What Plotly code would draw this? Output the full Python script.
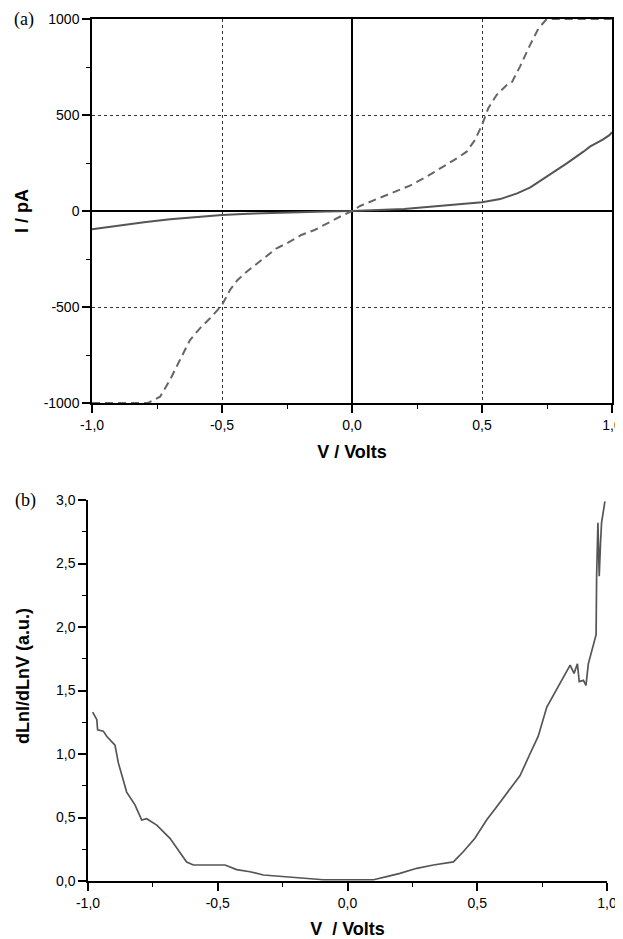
import plotly.graph_objects as go

# ---------- data ----------
a_solid_v = [-1.0, -0.9, -0.8, -0.7, -0.6, -0.5, -0.4, -0.3, -0.2, -0.1, 0.0, 0.1, 0.2, 0.3, 0.4,
             0.5, 0.57, 0.635, 0.686, 0.71, 0.762, 0.826, 0.89, 0.915, 0.966, 0.99, 1.0]
a_solid_i = [-95, -76, -59, -43, -31, -21, -14, -9, -5, -2, 0, 5, 10, 22, 33,
             46, 62, 92, 123, 144, 188, 248, 309, 335, 373, 395, 410]

a_dash_v = [-1.0, -0.785, -0.738, -0.70, -0.662, -0.623, -0.585, -0.546, -0.5, -0.469, -0.44,
            -0.405, -0.372, -0.333, -0.29, -0.246, -0.195, -0.144, -0.092, -0.041, 0.0, 0.031,
            0.095, 0.159, 0.223, 0.287, 0.351, 0.403, 0.441, 0.473, 0.5, 0.524, 0.556, 0.595,
            0.614, 0.646, 0.685, 0.717, 0.749, 1.0]
a_dash_i = [-1000, -1000, -967, -880, -776, -672, -611, -559, -490, -411, -359,
            -316, -281, -241, -194, -165, -125, -99, -61, -26, 0, 26,
            62, 95, 132, 179, 231, 274, 309, 370, 448, 535, 604, 656,
            668, 752, 865, 951, 1000, 1000]

b_v = [-0.982, -0.966, -0.963, -0.941, -0.928, -0.896, -0.883, -0.851, -0.819, -0.793, -0.774,
       -0.735, -0.684, -0.645, -0.62, -0.594, -0.562, -0.472, -0.427, -0.376, -0.324, -0.234,
       -0.145, -0.093, 0.01, 0.10, 0.151, 0.202, 0.267, 0.331, 0.408, 0.446, 0.491, 0.536,
       0.575, 0.626, 0.665, 0.703, 0.735, 0.768, 0.819, 0.858, 0.873, 0.886, 0.893, 0.909,
       0.919, 0.928, 0.958, 0.96, 0.965, 0.97, 0.975, 0.979, 0.992]
b_d = [1.33, 1.27, 1.19, 1.18, 1.14, 1.07, 0.93, 0.70, 0.60, 0.48, 0.49,
       0.44, 0.336, 0.22, 0.15, 0.126, 0.126, 0.126, 0.09, 0.073, 0.047, 0.034,
       0.02, 0.01, 0.01, 0.01, 0.034, 0.06, 0.10, 0.126, 0.15, 0.23, 0.336, 0.48,
       0.585, 0.72, 0.83, 1.0, 1.14, 1.37, 1.556, 1.70, 1.635, 1.71, 1.57, 1.58,
       1.54, 1.71, 1.94, 2.40, 2.82, 2.40, 2.66, 2.82, 2.99]

v_tickvals = [-1.0, -0.5, 0.0, 0.5, 1.0]
v_ticktext = ["-1,0", "-0,5", "0,0", "0,5", "1,0"]
v_minor = [-0.75, -0.25, 0.25, 0.75]
i_tickvals = [-1000, -500, 0, 500, 1000]
i_ticktext = ["-1000", "-500", "0", "500", "1000"]
i_minor = [-750, -250, 250, 750]
d_tickvals = [0.0, 0.5, 1.0, 1.5, 2.0, 2.5, 3.0]
d_ticktext = ["0,0", "0,5", "1,0", "1,5", "2,0", "2,5", "3,0"]
d_minor = [0.25, 0.75, 1.25, 1.75, 2.25, 2.75]

OFF = 8  # page body margin
W, H = 623 - OFF, 939 - OFF
FONT = "Liberation Sans, Arial, sans-serif"
SERIF = "Liberation Serif, Times New Roman, serif"
CURVE = "#555555"
TXT = "#000000"

fig = go.Figure()
fig.add_trace(go.Scatter(x=a_solid_v, y=a_solid_i, mode="lines",
                         line=dict(color=CURVE, width=2), xaxis="x", yaxis="y"))
fig.add_trace(go.Scatter(x=a_dash_v, y=a_dash_i, mode="lines",
                         line=dict(color="#666666", width=2, dash="8px,5px"), xaxis="x", yaxis="y"))
fig.add_trace(go.Scatter(x=b_v, y=b_d, mode="lines",
                         line=dict(color=CURVE, width=1.7), xaxis="x2", yaxis="y2"))


def px_x(a, b):
    return [(a - OFF) / W, (b - OFF) / W]


def px_y(top, bottom):
    return [1 - (bottom - OFF) / H, 1 - (top - OFF) / H]


common = dict(showline=True, linecolor="black", linewidth=1.5, ticks="outside",
              ticklen=8, tickwidth=1.5, tickcolor="black", automargin=False,
              tickfont=dict(family=FONT, size=14, color=TXT), tickmode="array")
minor_style = dict(tickmode="array", ticks="outside", ticklen=4, tickwidth=1.3,
                   tickcolor="black", showgrid=False)
title_font = dict(family=FONT, size=18, color=TXT)

fig.update_layout(
    width=W, height=H, showlegend=False,
    margin=dict(l=0, r=0, t=0, b=0),
    plot_bgcolor="white", paper_bgcolor="white",
    xaxis=dict(domain=px_x(92, 612), range=[-1, 1], anchor="y",
               tickvals=v_tickvals, ticktext=v_ticktext, mirror=True,
               showgrid=True, gridcolor="#333", gridwidth=1, griddash="dot",
               zeroline=True, zerolinecolor="black", zerolinewidth=1.5,
               minor=dict(tickvals=v_minor, **minor_style),
               title=dict(text="<b>V / Volts</b>", font=title_font, standoff=14),
               **common),
    yaxis=dict(domain=px_y(19, 403), range=[-1000, 1000], anchor="x",
               tickvals=i_tickvals, ticktext=i_ticktext, mirror=True,
               showgrid=True, gridcolor="#333", gridwidth=1, griddash="dot",
               zeroline=True, zerolinecolor="black", zerolinewidth=1.5,
               minor=dict(tickvals=i_minor, **minor_style),
               title=dict(text="<b>I / pA</b>", font=title_font, standoff=10),
               **common),
    xaxis2=dict(domain=px_x(88, 607), range=[-1, 1], anchor="y2",
                tickvals=v_tickvals, ticktext=v_ticktext, mirror=False,
                showgrid=False, zeroline=False,
                minor=dict(tickvals=v_minor, **minor_style),
                title=dict(text="<b>V  / Volts</b>", font=title_font, standoff=14),
                **common),
    yaxis2=dict(domain=px_y(500, 881), range=[0, 3], anchor="x2",
                tickvals=d_tickvals, ticktext=d_ticktext, mirror=False,
                showgrid=False, zeroline=False,
                minor=dict(tickvals=d_minor, **minor_style),
                **common),
    annotations=[
        dict(text="(a)", x=(12 - OFF) / W, y=1 - (20 - OFF) / H, xref="paper", yref="paper",
             xanchor="left", yanchor="middle", showarrow=False,
             font=dict(family=SERIF, size=18, color=TXT)),
        dict(text="(b)", x=(13 - OFF) / W, y=1 - (500 - OFF) / H, xref="paper", yref="paper",
             xanchor="left", yanchor="middle", showarrow=False,
             font=dict(family=SERIF, size=18, color=TXT)),
        dict(text="<b>dLnI/dLnV (a.u.)</b>", textangle=-90,
             x=(23 - OFF) / W, y=1 - (676 - OFF) / H, xref="paper", yref="paper",
             xanchor="center", yanchor="middle", showarrow=False, font=title_font),
    ],
)

fig.write_html("out.html")
